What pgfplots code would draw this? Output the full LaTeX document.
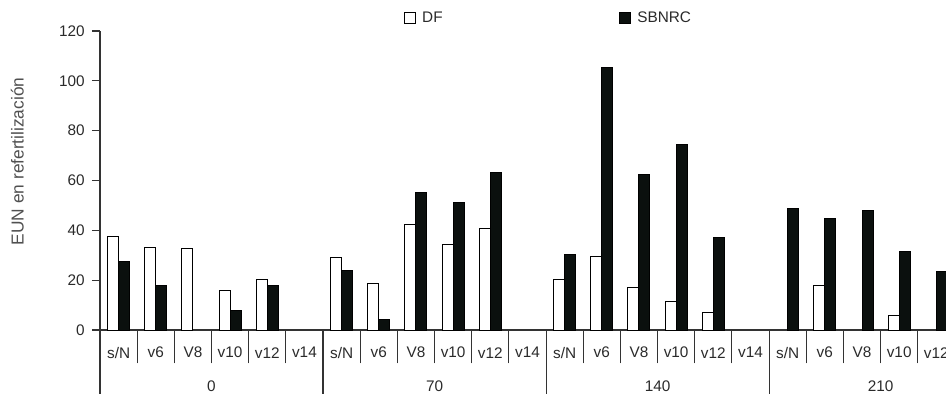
\documentclass[border=0pt]{standalone}
\usepackage{pgfplots}
\pgfplotsset{compat=1.18}
\usepackage{fontspec}
\setmainfont{Liberation Sans}
\definecolor{barblack}{HTML}{0B100E}
\definecolor{axgray}{HTML}{333333}
\definecolor{txtgray}{HTML}{2A2A2A}
\definecolor{labgray}{HTML}{505050}
\begin{document}
\begin{tikzpicture}
\useasboundingbox (-75pt,-48pt) rectangle (634.5pt,247.5pt);
\clip (-75pt,-48pt) rectangle (634.5pt,247.5pt);
\begin{axis}[
  at={(0,0)}, anchor=south west,
  scale only axis, width=634.5pt, height=224.25pt,
  xmin=0, xmax=22.76, ymin=0, ymax=120,
  axis lines*=left,
  axis line style={draw=axgray, line width=0.8pt},
  clip=false,
  ybar=0pt, bar width=8.25pt,
  ytick={0,20,...,120},
  tick align=outside,
  major tick length=6pt,
  minor tick length=25pt,
  ytick style={draw=axgray, line width=0.8pt},
  major x tick style={draw=none},
  minor x tick style={draw=axgray, line width=0.8pt},
  xtick={0.5,1.5,...,22.5},
  minor xtick={1,...,22},
  xticklabels={s/N,v6,V8,v10,v12,v14,s/N,v6,V8,v10,v12,v14,s/N,v6,V8,v10,v12,v14,s/N,v6,V8,v10,v12},
  tick label style={font=\fontsize{11.5}{13}\selectfont, text=txtgray},
  xticklabel style={anchor=center, yshift=-11pt},
  yticklabel style={xshift=-2pt},
  /pgf/number format/assume math mode=true,
  legend columns=2,
  legend style={draw=none, fill=none, inner sep=0pt, at={(0.3585,1.0435)}, anchor=west,
    font=\fontsize{11.5}{13}\selectfont, text=txtgray,
    /tikz/every odd column/.append style={column sep=2.5pt},
    /tikz/every even column/.append style={column sep=130pt}},
]
\addplot[draw=black, fill=white, line width=0.75pt,
  legend image code/.code={\draw[draw=black, fill=white, line width=0.75pt] (0pt,-4.1pt) rectangle (8.75pt,4.1pt);}]
  coordinates {(0.5,37.7) (1.5,33.0) (2.5,32.6) (3.5,15.7) (4.5,20.3)
  (6.5,29.0) (7.5,18.6) (8.5,42.4) (9.5,34.4) (10.5,40.7)
  (12.5,20.3) (13.5,29.7) (14.5,17.0) (15.5,11.6) (16.5,7.1)
  (19.5,17.7) (21.5,5.9)};
\addlegendentry{DF}
\addplot[draw=black, fill=barblack, line width=0.75pt,
  legend image code/.code={\draw[draw=black, fill=barblack, line width=0.75pt] (0pt,-4.1pt) rectangle (8.75pt,4.1pt);}]
  coordinates {(0.5,27.4) (1.5,17.7) (3.5,7.8) (4.5,17.7)
  (6.5,23.8) (7.5,4.1) (8.5,55.3) (9.5,51.2) (10.5,63.4)
  (12.5,30.2) (13.5,105.3) (14.5,62.3) (15.5,74.5) (16.5,37.3)
  (18.5,48.8) (19.5,44.8) (20.5,47.8) (21.5,31.4) (22.5,23.4)};
\addlegendentry{SBNRC}
\foreach \g in {0,6,12,18} {
  \edef\tmp{\noexpand\draw[draw=axgray, line width=0.8pt] (axis cs:\g,0) -- ++(0,-48pt);}
  \tmp
}
\foreach \g/\t in {3/0,9/70,15/140,21/210} {
  \edef\tmp{\noexpand\node[font=\noexpand\fontsize{11.5}{13}\noexpand\selectfont, text=txtgray] at (axis cs:\g,0) [yshift=-42pt] {\t};}
  \tmp
}
\node[xshift=-62pt, rotate=90, font=\fontsize{13}{15}\selectfont, text=labgray] at (rel axis cs:0,0.564) {EUN en refertilización};
\end{axis}
\end{tikzpicture}
\end{document}
